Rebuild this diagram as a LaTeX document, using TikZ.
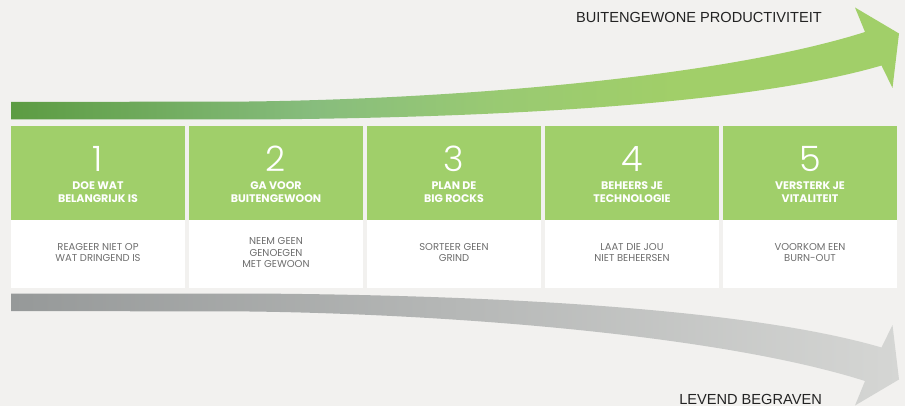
\documentclass[tikz,border=0pt]{standalone}
\usepackage{fontspec}
\setmainfont{Liberation Sans}
\newfontfamily\boxfont{Poppins}
\newfontfamily\numfont{Poppins Light}
\definecolor{bg}{RGB}{242,241,239}
\definecolor{boxgreen}{RGB}{160,207,106}
\definecolor{subgray}{RGB}{110,110,110}
\definecolor{titlegray}{RGB}{35,35,35}
\definecolor{grayL}{RGB}{150,153,153}
\definecolor{grayR}{RGB}{213,214,212}
\pgfdeclarehorizontalshading{greenshade}{100bp}{rgb(0bp)=(0.36,0.61,0.26); rgb(25bp)=(0.36,0.61,0.26); rgb(42bp)=(0.53,0.74,0.49); rgb(52bp)=(0.60,0.79,0.45); rgb(62bp)=(0.63,0.81,0.41); rgb(100bp)=(0.63,0.81,0.41)}
\tikzset{
  greenbox/.style={fill=boxgreen, minimum width=174pt, minimum height=94pt, inner sep=0pt, anchor=north west},
  whitebox/.style={fill=white, minimum width=174pt, minimum height=68pt, inner sep=0pt, anchor=north west},
  numtext/.style={text=white, inner sep=0pt, anchor=base, font=\numfont\fontsize{35}{35}\selectfont},
  labeltext/.style={text=white, inner sep=0pt, align=center, anchor=center, font=\boxfont\bfseries\fontsize{11}{13.3}\selectfont},
  subtext/.style={text=subgray, inner sep=0pt, align=center, anchor=center, font=\boxfont\fontsize{10}{11.3}\selectfont},
  bigtext/.style={text=titlegray, inner sep=0pt, anchor=base east, font=\fontsize{14.6}{14.6}\selectfont},
}
\begin{document}
\begin{tikzpicture}[x=1pt,y=-1pt]
\useasboundingbox (0,0) rectangle (905,406);
\fill[bg] (0,0) rectangle (905,406);
% green arrow
\path[shading=greenshade] (11,102) -- (250,101.5) .. controls (450,99) and (720,78) .. (865,32)
  -- (855,7.5) -- (899,33.5) -- (892.5,88) -- (881.5,65.5)
  .. controls (750,104) and (500,118) .. (250,119.5) -- (11,119.5) -- cycle;
% gray arrow
\path[left color=grayL, right color=grayR] (11,311) -- (250,311.5) .. controls (450,314) and (720,335) .. (865,381)
  -- (855,405.5) -- (899,379.5) -- (892.5,325) -- (881.5,347.5)
  .. controls (750,309) and (500,295) .. (250,293.5) -- (11,293.5) -- cycle;
\node[bigtext] (top) at (822,22.3) {BUITENGEWONE PRODUCTIVITEIT};
\node[bigtext] (bottom) at (822,404) {LEVEND BEGRAVEN};
% boxes
\foreach \i/\lab/\sub [count=\k from 0] in {
  1/{DOE WAT\\BELANGRIJK IS}/{REAGEER NIET OP\\WAT DRINGEND IS},
  2/{GA VOOR\\BUITENGEWOON}/{NEEM GEEN\\GENOEGEN\\MET GEWOON},
  3/{PLAN DE\\BIG ROCKS}/{SORTEER GEEN\\GRIND},
  4/{BEHEERS JE\\TECHNOLOGIE}/{LAAT DIE JOU\\NIET BEHEERSEN},
  5/{VERSTERK JE\\VITALITEIT}/{VOORKOM EEN\\BURN-OUT}}{
  \pgfmathsetmacro{\xl}{11+178*\k}
  \pgfmathsetmacro{\xc}{\xl+87}
  \node[greenbox] (g\i) at (\xl,126) {};
  \node[whitebox] (w\i) at (\xl,220) {};
  \node[numtext] (n\i) at (\xc,171.7) {\i};
  \node[labeltext] (l\i) at (\xc,192) {\lab};
  \node[subtext] (s\i) at (\xc,252.8) {\sub};
}
\end{tikzpicture}
\end{document}
